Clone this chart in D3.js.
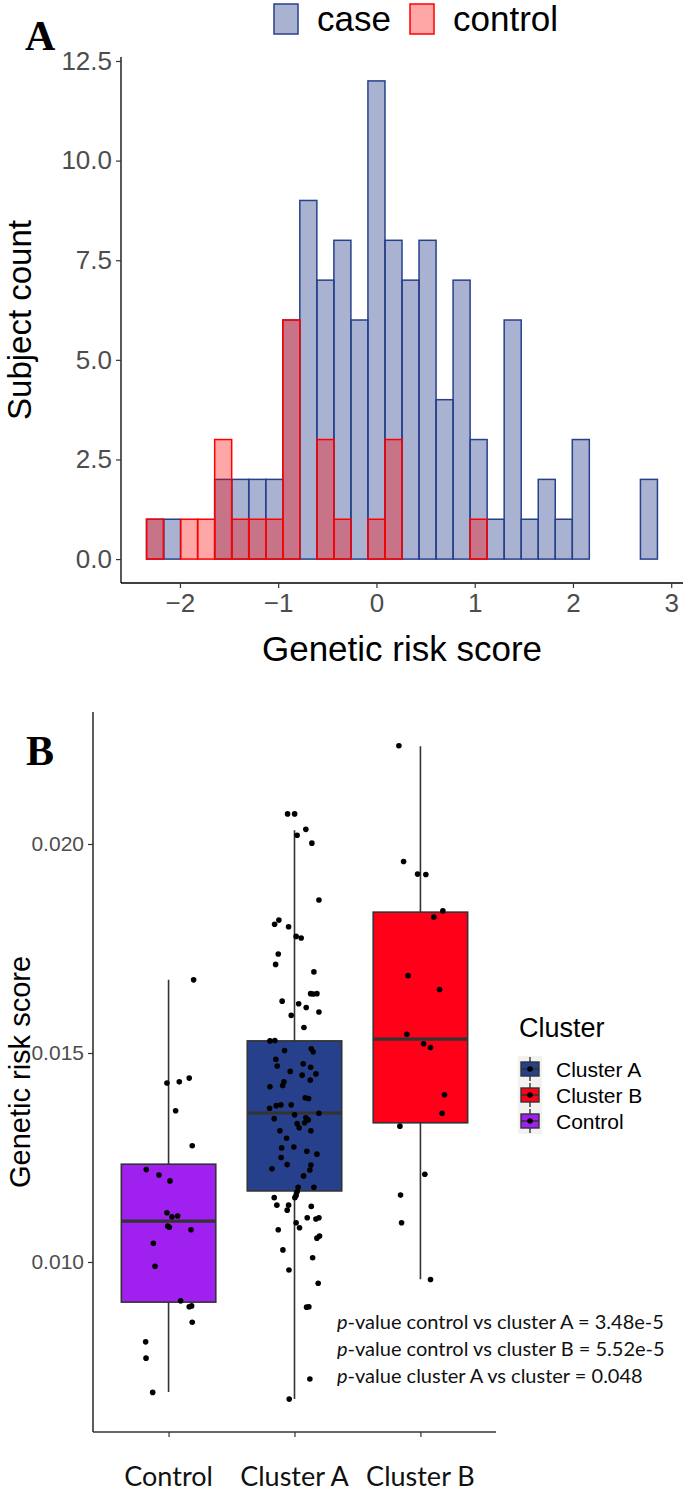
<!DOCTYPE html>
<html lang="en">
<head>
<meta charset="utf-8" />
<title>Genetic risk score</title>
<script src="https://cdn.jsdelivr.net/npm/d3@7"></script>
<style>
  body { margin: 0; background: #fff; }
  svg { display: block; }
</style>
</head>
<body>
<script>
// ---------- Panel A: histogram of genetic risk score ----------
var binStart = -2.34;
var binWidth = 0.17333;
var caseCounts = [1, 1, 0, 0, 2, 2, 2, 2, 6, 9, 7, 8, 6, 12, 8, 7, 8, 4, 7, 3, 1, 6, 1, 2, 1, 3, 0, 0, 0, 2];
var controlCounts = [1, 0, 1, 1, 3, 1, 1, 1, 6, 0, 3, 1, 0, 1, 3, 0, 0, 0, 0, 1, 0, 0, 0, 0, 0, 0, 0, 0, 0, 0];
var groupNames = ["case", "control"];
var xTicksA = [-2, -1, 0, 1, 2, 3];
var yTicksA = [0, 2.5, 5, 7.5, 10, 12.5];

// ---------- Panel B: boxplots by cluster ----------
var clusters = ["Control", "Cluster A", "Cluster B"];
var legendOrder = ["Cluster A", "Cluster B", "Control"];
var boxLow = [0.00689, 0.00672, 0.00959];
var boxQ1 = [0.00904, 0.01170, 0.01333];
var boxMed = [0.01098, 0.013565, 0.01533];
var boxQ3 = [0.01234, 0.01529, 0.01837];
var boxHigh = [0.01675, 0.02033, 0.02234];
var yTicksB = [0.010, 0.015, 0.020];

var controlScores = [0.01428, 0.01431, 0.01440, 0.01362, 0.01278, 0.01221, 0.01208, 0.01194,
  0.01118, 0.01108, 0.01110, 0.01086, 0.01083, 0.01077, 0.01045, 0.00990, 0.00907, 0.00893,
  0.00895, 0.00856, 0.00809, 0.00770, 0.00688, 0.01675];
var controlJitter = [-0.013, 0.085, 0.164, 0.056, 0.188, -0.177, -0.076, 0.011, -0.013, 0.027,
  0.072, -0.007, 0.006, 0.178, -0.121, -0.108, 0.096, 0.164, 0.183, 0.188, -0.182, -0.179, -0.126, 0.199];

var clusterAScores = [0.02072, 0.02072, 0.02035, 0.02021, 0.02002, 0.01866, 0.01818, 0.01808,
  0.01802, 0.01779, 0.01775, 0.01737, 0.01712, 0.01694, 0.01642, 0.01641, 0.01642, 0.01624,
  0.01618, 0.01609, 0.01598, 0.01590, 0.01561, 0.01529, 0.01530, 0.01506, 0.01510, 0.01503,
  0.01485, 0.01469, 0.01474, 0.01466, 0.01456, 0.01450, 0.01447, 0.01435, 0.01431, 0.01422,
  0.01419, 0.01393, 0.01391, 0.01368, 0.01374, 0.01376, 0.01376, 0.01356, 0.01352, 0.01343,
  0.01345, 0.01340, 0.01331, 0.01333, 0.01321, 0.01314, 0.01314, 0.01296, 0.01273, 0.01275,
  0.01265, 0.01258, 0.01250, 0.01233, 0.01232, 0.01223, 0.01220, 0.01206, 0.01179, 0.01179,
  0.01168, 0.01159, 0.01154, 0.01154, 0.01136, 0.01136, 0.01124, 0.01133, 0.01106, 0.01103,
  0.01106, 0.01094, 0.01082, 0.01077, 0.01057, 0.01062, 0.01029, 0.01010, 0.00981, 0.00949,
  0.00892, 0.00893, 0.00720, 0.00672];
var clusterAJitter = [-0.055, 0.001, 0.090, 0.021, 0.138, 0.194, -0.124, -0.158, -0.047, 0.013,
  0.053, -0.129, -0.150, 0.154, 0.128, 0.148, 0.178, -0.098, 0.033, 0.093, 0.194, -0.026, 0.075,
  -0.195, -0.156, -0.079, 0.133, 0.148, -0.148, -0.137, 0.069, 0.128, -0.034, 0.170, 0.061, 0.125,
  -0.084, -0.094, -0.195, 0.085, 0.112, -0.198, -0.145, -0.108, -0.026, 0.194, 0.001, -0.161,
  0.090, 0.109, 0.021, 0.080, 0.037, -0.116, 0.130, -0.063, -0.102, -0.005, 0.098, 0.178, -0.106,
  -0.058, 0.130, -0.179, 0.122, 0.072, 0.029, 0.154, 0.021, 0.013, 0.003, -0.161, -0.140, -0.047,
  -0.058, 0.133, 0.101, 0.170, 0.194, 0.013, 0.040, -0.129, 0.178, 0.199, -0.092, 0.144, -0.044,
  0.188, 0.096, 0.114, 0.122, -0.042];

var clusterBScores = [0.02235, 0.01958, 0.01928, 0.01927, 0.01840, 0.01825, 0.01685, 0.01652,
  0.01545, 0.01522, 0.01513, 0.01400, 0.01356, 0.01325, 0.01210, 0.01160, 0.01094, 0.00958];
var clusterBJitter = [-0.171, -0.134, -0.023, 0.043, 0.178, 0.106, -0.098, 0.152, -0.108, 0.025,
  0.080, 0.191, 0.172, -0.163, 0.035, -0.158, -0.150, 0.080];

var pvalueTexts = ["-value control vs cluster A = 3.48e-5",
  "-value control vs cluster B = 5.52e-5",
  "-value cluster A vs cluster = 0.048"];

var colors = { "case": "#27408B", "control": "#ff0000",
  "Control": "#a020f0", "Cluster A": "#27408B", "Cluster B": "#ff0018" };

var W = 685, H = 1494;
var svg = d3.select("body").append("svg").attr("width", W).attr("height", H)
  .style("font-family", "'Liberation Sans', Arial, sans-serif");

// ============ PANEL A ============
var xA = d3.scaleLinear().domain([-2.6, 3.12]).range([121, 683]);
var yA = d3.scaleLinear().domain([-0.6, 12.6]).range([583, 57]);

var bins = caseCounts.map(function (c, i) {
  return { x0: binStart + i * binWidth, x1: binStart + (i + 1) * binWidth, case: c, control: controlCounts[i] };
});

var gA = svg.append("g");
var fillOpacity = { "case": 0.4, "control": 0.35 };
groupNames.forEach(function (g) {
  gA.append("g").selectAll("rect")
    .data(bins)
    .enter()
    .append("rect")
    .attr("x", function (d) { return xA(d.x0); })
    .attr("y", function (d) { return yA(d[g]); })
    .attr("width", function (d) { return xA(d.x1) - xA(d.x0); })
    .attr("height", function (d) { return yA(0) - yA(d[g]); })
    .attr("fill", colors[g])
    .attr("fill-opacity", fillOpacity[g])
    .attr("stroke", colors[g])
    .attr("stroke-width", 1.5);
});

// axes A
var axA = gA.append("g").attr("transform", "translate(0,583)")
  .call(d3.axisBottom(xA).tickValues(xTicksA).tickFormat(d3.format("d")).tickSize(5).tickPadding(6));
var ayA = gA.append("g").attr("transform", "translate(121,0)")
  .call(d3.axisLeft(yA).tickValues(yTicksA).tickFormat(d3.format(".1f")).tickSize(5).tickPadding(4));
[axA, ayA].forEach(function (a) {
  a.select(".domain").attr("stroke", "#000").attr("stroke-width", 1.3);
  a.selectAll(".tick line").attr("stroke", "#333").attr("stroke-width", 1.2);
  a.selectAll("text").attr("fill", "#4d4d4d").attr("font-size", 26)
    .attr("font-family", "'Liberation Sans', Arial, sans-serif");
});
axA.select(".domain").attr("d", "M121,0H683");
ayA.select(".domain").attr("d", "M0,57V583");

gA.append("text").attr("x", 402).attr("y", 661).attr("text-anchor", "middle")
  .attr("font-size", 35).text("Genetic risk score");
gA.append("text").attr("transform", "translate(31,320) rotate(-90)").attr("text-anchor", "middle")
  .attr("font-size", 33).text("Subject count");

// legend A
var legA = gA.append("g");
var legX = [274, 410];
groupNames.forEach(function (g, i) {
  legA.append("rect").attr("x", legX[i]).attr("y", 4).attr("width", 24).attr("height", 30)
    .attr("fill", colors[g]).attr("fill-opacity", fillOpacity[g])
    .attr("stroke", colors[g]).attr("stroke-width", 1.5);
  legA.append("text").attr("x", legX[i] + 43).attr("y", 31).attr("font-size", 35).text(g);
});

svg.append("text").attr("x", 25).attr("y", 50).attr("font-family", "'Liberation Serif', serif")
  .attr("font-weight", "bold").attr("font-size", 42).text("A");

// ============ PANEL B ============
var xB = d3.scalePoint().domain(clusters).range([93, 496]).padding(0.6);
var yB = d3.scaleLinear().domain([0.005933, 0.023158]).range([1432, 712]);
var boxW = xB.step() * 0.75;

var gB = svg.append("g");
var boxes = clusters.map(function (c, i) {
  return { name: c, lo: boxLow[i], q1: boxQ1[i], med: boxMed[i], q3: boxQ3[i], hi: boxHigh[i] };
});
var bx = gB.selectAll("g.box").data(boxes).enter().append("g").attr("class", "box");
bx.append("line")
  .attr("x1", function (d) { return xB(d.name); }).attr("x2", function (d) { return xB(d.name); })
  .attr("y1", function (d) { return yB(d.lo); }).attr("y2", function (d) { return yB(d.hi); })
  .attr("stroke", "#333").attr("stroke-width", 1.6);
bx.append("rect")
  .attr("x", function (d) { return xB(d.name) - boxW / 2; })
  .attr("y", function (d) { return yB(d.q3); })
  .attr("width", boxW)
  .attr("height", function (d) { return yB(d.q1) - yB(d.q3); })
  .attr("fill", function (d) { return colors[d.name]; })
  .attr("stroke", "#333").attr("stroke-width", 1.6);
bx.append("line")
  .attr("x1", function (d) { return xB(d.name) - boxW / 2; })
  .attr("x2", function (d) { return xB(d.name) + boxW / 2; })
  .attr("y1", function (d) { return yB(d.med); }).attr("y2", function (d) { return yB(d.med); })
  .attr("stroke", "#333").attr("stroke-width", 3.2);

// jittered points
var points = [];
[[controlScores, controlJitter], [clusterAScores, clusterAJitter], [clusterBScores, clusterBJitter]]
  .forEach(function (p, i) {
    p[0].forEach(function (v, j) { points.push({ c: clusters[i], v: v, j: p[1][j] }); });
  });
gB.append("g").selectAll("circle").data(points).enter().append("circle")
  .attr("cx", function (d) { return xB(d.c) + d.j * xB.step(); })
  .attr("cy", function (d) { return yB(d.v); })
  .attr("r", 2.8).attr("fill", "#000");

// axes B
var axB = gB.append("g").attr("transform", "translate(0,1432)")
  .call(d3.axisBottom(xB).tickSize(5).tickFormat(""));
var ayB = gB.append("g").attr("transform", "translate(93,0)")
  .call(d3.axisLeft(yB).tickValues(yTicksB).tickFormat(d3.format(".3f")).tickSize(5).tickPadding(4));
[axB, ayB].forEach(function (a) {
  a.select(".domain").attr("stroke", "#333").attr("stroke-width", 1.6);
  a.selectAll(".tick line").attr("stroke", "#333").attr("stroke-width", 1.2);
});
axB.select(".domain").attr("d", "M93,0H496");
ayB.select(".domain").attr("d", "M0,712V1432");
ayB.selectAll("text").attr("fill", "#4d4d4d").attr("font-size", 21)
  .attr("font-family", "'Liberation Sans', Arial, sans-serif");

gB.selectAll("text.xlab").data(clusters).enter().append("text").attr("class", "xlab")
  .attr("x", function (d) { return xB(d); }).attr("y", 1486).attr("text-anchor", "middle")
  .attr("font-family", "Lato, sans-serif").attr("font-size", 27).attr("fill", "#111").text(function (d) { return d; });

gB.append("text").attr("transform", "translate(30,1072) rotate(-90)").attr("text-anchor", "middle")
  .attr("font-size", 29).text("Genetic risk score");

// legend B
var legB = gB.append("g");
legB.append("text").attr("x", 519).attr("y", 1037).attr("font-size", 27).text("Cluster");
legendOrder.forEach(function (c, i) {
  var y0 = 1056 + i * 26, cx = 530;
  var k = legB.append("g");
  k.append("rect").attr("x", 518).attr("y", y0).attr("width", 24).attr("height", 26).attr("fill", "#f2f2f2");
  k.append("line").attr("x1", cx).attr("x2", cx).attr("y1", y0 + 1).attr("y2", y0 + 25)
    .attr("stroke", "#333").attr("stroke-width", 1.4);
  k.append("rect").attr("x", 521).attr("y", y0 + 6).attr("width", 18).attr("height", 14)
    .attr("fill", colors[c]).attr("stroke", "#333").attr("stroke-width", 1.4);
  k.append("line").attr("x1", 521).attr("x2", 539).attr("y1", y0 + 13).attr("y2", y0 + 13)
    .attr("stroke", "#333").attr("stroke-width", 1.6);
  k.append("circle").attr("cx", cx).attr("cy", y0 + 13).attr("r", 2.8).attr("fill", "#000");
  legB.append("text").attr("x", 556).attr("y", y0 + 21).attr("font-size", 21).text(c);
});

// p-values
pvalueTexts.forEach(function (t, i) {
  var tx = gB.append("text").attr("x", 337).attr("y", 1329 + i * 27)
    .attr("font-family", "Lato, sans-serif").attr("font-size", 20).attr("fill", "#111");
  tx.append("tspan").attr("font-style", "italic").text("p");
  tx.append("tspan").text(t);
});

svg.append("text").attr("x", 26).attr("y", 765).attr("font-family", "'Liberation Serif', serif")
  .attr("font-weight", "bold").attr("font-size", 42).text("B");
</script>
</body>
</html>
